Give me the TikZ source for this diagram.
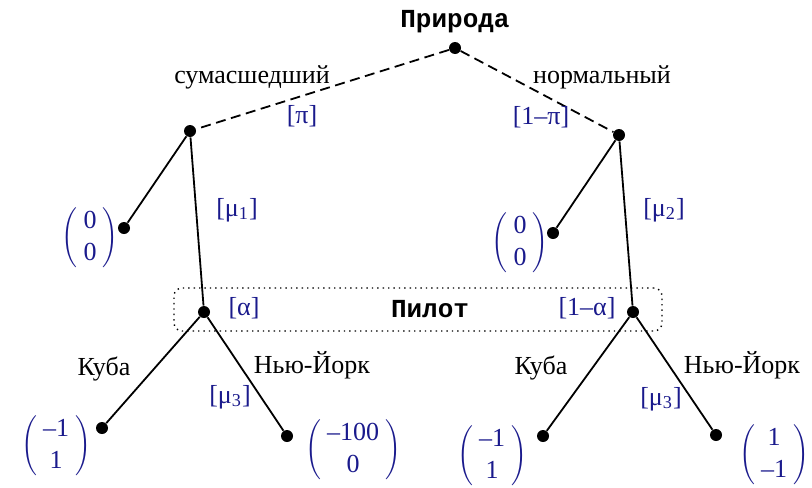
\documentclass[tikz,border=0pt]{standalone}
\usepackage{fontspec}
\setmainfont{Liberation Serif}
\newfontfamily\monob{Liberation Mono}
\definecolor{lblue}{RGB}{26,26,140}
\newcommand{\payoff}[2]{$\left(\vcenter{\hbox{\begin{tabular}{@{\hspace{3pt}}c@{\hspace{3pt}}}#1\\#2\end{tabular}}}\right)$}
\begin{document}
\begin{tikzpicture}[x=0.5pt,y=-0.5pt,
  font=\fontsize{13}{16}\selectfont,
  dot/.style={circle,fill=black,inner sep=0pt,minimum size=6pt},
  edge/.style={line width=0.9pt},
  natedge/.style={line width=0.9pt,dash pattern=on 5pt off 2.8pt},
  lbl/.style={text=lblue,anchor=base,inner sep=0pt},
  act/.style={anchor=base,inner sep=0pt},
  pay/.style={text=lblue,inner sep=0pt},
  plname/.style={anchor=base,inner sep=0pt,font=\fontsize{13}{16}\monob\bfseries}]
\useasboundingbox (0,0) rectangle (812,487);
% information set
\node[draw,dotted,line width=0.7pt,rounded corners=4pt,minimum width=244pt,minimum height=21.5pt,inner sep=0pt] (infoset) at (418,309.5) {};
% decision nodes
\node[dot] (r) at (455,48) {};
\node[dot] (l) at (190,131) {};
\node[dot] (n) at (619,135) {};
\node[dot] (l0) at (124,228) {};
\node[dot] (n0) at (553,233) {};
\node[dot] (lp) at (204,312) {};
\node[dot] (np) at (633,312) {};
\node[dot] (lc) at (102,428) {};
\node[dot] (ly) at (287,436) {};
\node[dot] (nc) at (543,436) {};
\node[dot] (ny) at (716,435) {};
% edges
\draw[natedge] (r) -- (l);
\draw[natedge] (r) -- (n);
\draw[edge] (l) -- (l0);
\draw[edge] (l) -- (lp);
\draw[edge] (n) -- (n0);
\draw[edge] (n) -- (np);
\draw[edge] (lp) -- (lc);
\draw[edge] (lp) -- (ly);
\draw[edge] (np) -- (nc);
\draw[edge] (np) -- (ny);
% player names
\node[plname] (nature) at (455,27) {Природа};
\node[plname] (pilot) at (430,317) {Пилот};
% action labels
\node[act] (a1) at (252,83) {сумасшедший};
\node[act] (a2) at (602,83) {нормальный};
\node[act] (a3) at (104,375) {Куба};
\node[act] (a4) at (312,373) {Нью-Йорк};
\node[act] (a5) at (541,374) {Куба};
\node[act] (a6) at (742,373) {Нью-Йорк};
% beliefs / probabilities
\node[lbl] (p1) at (302,123) {[π]};
\node[lbl] (p2) at (541,124) {[1–π]};
\node[lbl] (m1) at (237,216) {[μ\textsubscript{1}]};
\node[lbl] (m2) at (664,216) {[μ\textsubscript{2}]};
\node[lbl] (al1) at (244,315) {[α]};
\node[lbl] (al2) at (587,315) {[1–α]};
\node[lbl] (m3) at (230,403) {[μ\textsubscript{3}]};
\node[lbl] (m4) at (661,405) {[μ\textsubscript{3}]};
% payoffs
\node[pay] (v1) at (90,238) {\payoff{0}{0}};
\node[pay] (v2) at (520,243) {\payoff{0}{0}};
\node[pay] (v3) at (56,446) {\payoff{–1}{1}};
\node[pay] (v4) at (353,450) {\payoff{–100}{0}};
\node[pay] (v5) at (492,456) {\payoff{–1}{1}};
\node[pay] (v6) at (774,455) {\payoff{1}{–1}};
\end{tikzpicture}
\end{document}
